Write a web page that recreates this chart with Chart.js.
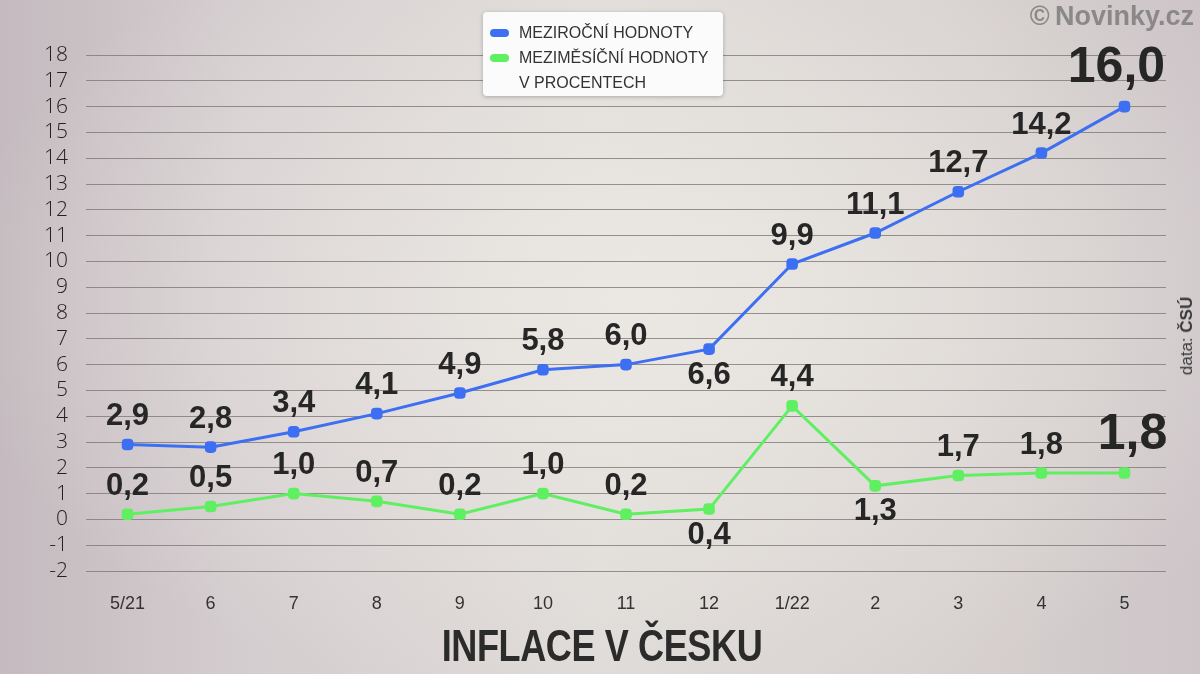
<!DOCTYPE html>
<html>
<head>
<meta charset="utf-8">
<script src="https://cdn.jsdelivr.net/npm/chart.js@4.4.0/dist/chart.umd.min.js"></script>
<style>
  html, body { margin:0; padding:0; }
  body {
    width:1200px; height:674px; overflow:hidden; position:relative;
    background:
      radial-gradient(ellipse 700px 420px at 650px 300px, rgba(238,235,230,0.85), rgba(238,235,230,0) 100%),
      linear-gradient(90deg, #c4babf 0%, #d4cdcf 20%, #dedad7 50%, #d6d0ce 80%, #cdc5c8 100%);
  }
  #wrap { position:absolute; left:0; top:0; width:1200px; height:674px; }
  #legend {
    position:absolute; left:483px; top:12px; width:240px; height:84px;
    background:#fbfbfb; border-radius:4px; box-shadow:0 1px 4px rgba(0,0,0,0.25);
    font-family:"Liberation Sans", Arial, sans-serif; font-size:16px; color:#333;
  }
  .li { position:absolute; left:36px; white-space:nowrap; }
  .sw { position:absolute; left:-29px; top:5px; width:19px; height:8px; border-radius:4px; }
  #copy {
    position:absolute; right:6px; top:1px; font-family:"Liberation Sans", Arial, sans-serif;
    font-weight:bold; font-size:27px; color:#8a8888;
  }
  #src {
    position:absolute; left:1187px; top:336px; transform:translate(-50%,-50%) rotate(-90deg);
    font-family:"Liberation Sans", Arial, sans-serif; font-size:17px; color:#3a3a3a; white-space:nowrap;
  }
  #title {
    position:absolute; left:602px; top:646px; transform:translate(-50%,-50%) scaleX(0.82);
    font-family:"Liberation Sans", Arial, sans-serif; font-weight:bold; font-size:44px;
    letter-spacing:-0.5px; color:#2b2b2b; white-space:nowrap;
  }
</style>
</head>
<body>
<div id="wrap"><canvas id="c" width="1200" height="674"></canvas></div>
<div id="legend"></div>
<div id="copy">©&#8201;Novinky.cz</div>
<div id="src">data: <b>ČSÚ</b></div>
<div id="title"></div>
<script>
// ---- data ----
const categories = ["5/21","6","7","8","9","10","11","12","1/22","2","3","4","5"];
const yearOnYear = [2.9, 2.8, 3.4, 4.1, 4.9, 5.8, 6.0, 6.6, 9.9, 11.1, 12.7, 14.2, 16.0];
const monthOnMonth = [0.2, 0.5, 1.0, 0.7, 0.2, 1.0, 0.2, 0.4, 4.4, 1.3, 1.7, 1.8, 1.8];
const seriesNames = ["MEZIROČNÍ HODNOTY", "MEZIMĚSÍČNÍ HODNOTY"];
const legendNote = "V PROCENTECH";
const chartTitle = "INFLACE V ČESKU";
const yTickMin = -2, yTickMax = 18, yTickStep = 1;

// label placement (style)
const yoyPlace = ["a","a","a","a","a","a","a","b","a","a","a","a","a"];
const momPlace = ["a","a","a","a","a","a","a","b","a","b","a","a","a"];

const colors = ["#3d6ff3", "#5ff062"];

document.getElementById('title').textContent = chartTitle;

// legend
const lg = document.getElementById('legend');
seriesNames.forEach((n,i)=>{
  const d = document.createElement('div'); d.className='li'; d.style.top=(12+i*25)+'px';
  d.innerHTML = '<span class="sw" style="background:'+colors[i]+'"></span>'+n;
  lg.appendChild(d);
});
const note = document.createElement('div'); note.className='li'; note.style.top=(12+2*25)+'px'; note.textContent=legendNote; lg.appendChild(note);

const fmt = v => v.toFixed(1).replace('.', ',');

const labelPlugin = {
  id:'vlabels',
  afterDatasetsDraw(chart){
    const ctx = chart.ctx;
    const places = [yoyPlace, momPlace];
    chart.data.datasets.forEach((ds, di)=>{
      const meta = chart.getDatasetMeta(di);
      meta.data.forEach((pt, i)=>{
        const last = i === ds.data.length - 1;
        const size = last ? 50 : 31;
        ctx.save();
        ctx.font = 'bold ' + size + 'px "Liberation Sans", Arial, sans-serif';
        ctx.fillStyle = '#262626';
        ctx.textAlign = 'center';
        ctx.textBaseline = 'middle';
        const below = places[di][i] === 'b';
        const off = last ? 38 : 28;
        const y = below ? pt.y + 26 : pt.y - off;
        ctx.fillText(fmt(ds.data[i]), pt.x + (last ? (di===0? -8 : 8) : 0), y);
        ctx.restore();
      });
    });
  }
};

new Chart(document.getElementById('c'), {
  type:'line',
  data:{
    labels: categories,
    datasets:[
      { label: seriesNames[0], data: yearOnYear, borderColor: colors[0], backgroundColor: colors[0],
        borderWidth:3, pointStyle:'rectRounded', pointRadius:5, pointHoverRadius:5, tension:0 },
      { label: seriesNames[1], data: monthOnMonth, borderColor: colors[1], backgroundColor: colors[1],
        borderWidth:3, pointStyle:'rectRounded', pointRadius:5, pointHoverRadius:5, tension:0 }
    ]
  },
  options:{
    responsive:false, animation:false, devicePixelRatio:1,
    layout:{ padding:{ left:0, right:34, top:55, bottom:54.4 } },
    plugins:{ legend:{ display:false }, tooltip:{ enabled:false }, title:{ display:false } },
    scales:{
      x:{
        offset:true,
        grid:{ display:false, drawTicks:false },
        border:{ display:false },
        ticks:{ color:'#333', padding:22, font:{ family:'"Liberation Sans", Arial, sans-serif', size:18 } },
        afterFit(s){ s.height = 48.6; }
      },
      y:{
        min:yTickMin, max:yTickMax,
        grid:{ color:'rgba(120,115,112,0.75)', lineWidth:1, drawTicks:false },
        border:{ display:false },
        ticks:{ stepSize:yTickStep, autoSkip:false, color:'#222', padding:18,
          font:{ family:'"Open Sans", "Liberation Sans", sans-serif', size:21, weight:'300', lineHeight:1 } },
        afterFit(s){ s.width = 86; }
      }
    }
  },
  plugins:[labelPlugin]
});
</script>
</body>
</html>
